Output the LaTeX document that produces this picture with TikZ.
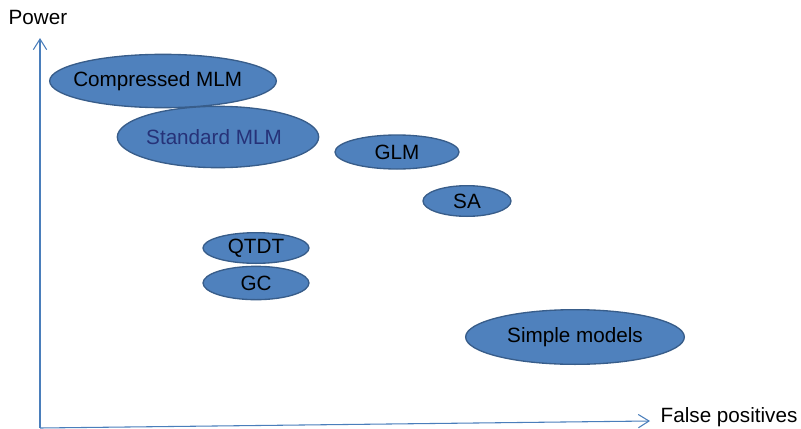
\documentclass[tikz,border=0pt]{standalone}
\usepackage{fontspec}
\setmainfont{Liberation Sans}
\usepackage{xcolor}
\usetikzlibrary{shapes.geometric,arrows.meta}
\definecolor{bubblefill}{HTML}{4F81BD}
\definecolor{bubbleline}{HTML}{385D8A}
\definecolor{axisblue}{HTML}{4A7EBB}
\definecolor{navytext}{RGB}{38,50,120}
\begin{document}
\begin{tikzpicture}[x=0.75pt,y=-0.75pt,
	bubble/.style={ellipse,draw=bubbleline,fill=bubblefill,line width=1pt,inner sep=0pt},
	axis/.style={draw=axisblue,line width=0.8pt,-{Straight Barb[length=8pt,width=10pt]}},
	font=\fontsize{15.5}{18}\selectfont]
	\useasboundingbox (0,0) rectangle (801,429);
	% axes
	\coordinate (O) at (40,428);
	\coordinate (ytop) at (40,38);
	\coordinate (xend) at (650,421);
	\draw[axis] (O) -- (ytop);
	\draw[axis] (O) -- (xend);
	\node[anchor=center] (power) at (38,17) {Power};
	\node[anchor=west] (fpos) at (656,417) {False positives};
	% models
	\node[bubble,minimum width=170pt,minimum height=40pt,label={[xshift=-4pt]center:Compressed MLM}] (cmlm) at (163,81) {};
	\node[bubble,minimum width=151pt,minimum height=46pt,label={[text=navytext,xshift=-3pt]center:Standard MLM}] (smlm) at (218,137) {};
	\node[bubble,minimum width=93pt,minimum height=25.5pt,label={center:GLM}] (glm) at (397,152) {};
	\node[bubble,minimum width=66pt,minimum height=23pt,label={center:SA}] (sa) at (467,201) {};
	\node[bubble,minimum width=79.5pt,minimum height=23pt,label={center:QTDT}] (qtdt) at (256,248) {};
	\node[bubble,minimum width=79.5pt,minimum height=25pt,label={center:GC}] (gc) at (256,283) {};
	\node[bubble,minimum width=164pt,minimum height=41pt,label={center:Simple models}] (simple) at (575,337) {};
\end{tikzpicture}
\end{document}
